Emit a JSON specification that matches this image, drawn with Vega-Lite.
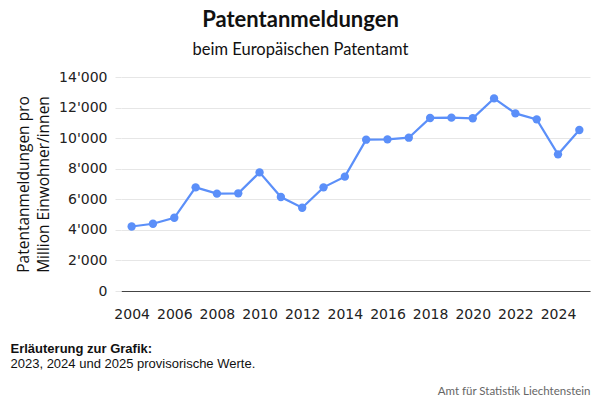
{
  "$schema": "https://vega.github.io/schema/vega-lite/v6.json",
  "autosize": {"type": "none"},
  "width": 469,
  "height": 214,
  "padding": {"left": 121, "top": 77, "right": 10, "bottom": 109},
  "title": {
    "text": "Patentanmeldungen",
    "subtitle": "beim Europäischen Patentamt",
    "anchor": "middle",
    "frame": "group",
    "dx": -55,
    "offset": 11,
    "font": "Lato",
    "fontSize": 22,
    "fontWeight": "bold",
    "color": "#111",
    "subtitleFont": "Lato",
    "subtitleFontSize": 16.5,
    "subtitleColor": "#111",
    "subtitlePadding": 10
  },
  "data": {
    "values": [
      {"year": 2004, "value": 4220},
      {"year": 2005, "value": 4400},
      {"year": 2006, "value": 4790},
      {"year": 2007, "value": 6780},
      {"year": 2008, "value": 6370},
      {"year": 2009, "value": 6390},
      {"year": 2010, "value": 7760},
      {"year": 2011, "value": 6150},
      {"year": 2012, "value": 5450},
      {"year": 2013, "value": 6780},
      {"year": 2014, "value": 7480},
      {"year": 2015, "value": 9900},
      {"year": 2016, "value": 9920},
      {"year": 2017, "value": 10030},
      {"year": 2018, "value": 11320},
      {"year": 2019, "value": 11340},
      {"year": 2020, "value": 11300},
      {"year": 2021, "value": 12600},
      {"year": 2022, "value": 11620},
      {"year": 2023, "value": 11230},
      {"year": 2024, "value": 8940},
      {"year": 2025, "value": 10530}
    ]
  },
  "layer": [
    {
      "mark": {"type": "line", "color": "#5b8ff9", "strokeWidth": 2.2},
      "encoding": {
        "x": {
          "field": "year",
          "type": "quantitative",
          "scale": {"domain": [2003.5, 2025.5], "nice": false, "zero": false},
          "axis": {
            "orient": "bottom",
            "values": [2004, 2006, 2008, 2010, 2012, 2014, 2016, 2018, 2020, 2022, 2024],
            "format": "d",
            "grid": false,
            "ticks": false,
            "tickSize": 0,
            "labelPadding": 16,
            "labelFont": "DejaVu Sans",
            "labelFontSize": 14,
            "labelColor": "#222",
            "domainColor": "#444",
            "domainWidth": 1.2,
            "title": "Erläuterung zur Grafik:",
            "titleFont": "Liberation Sans",
            "titleFontSize": 13,
            "titleFontWeight": "bold",
            "titleColor": "#111",
            "titleAlign": "left",
            "titleAnchor": "start",
            "titleBaseline": "alphabetic",
            "titleX": -111,
            "titleY": 61
          }
        },
        "y": {
          "field": "value",
          "type": "quantitative",
          "scale": {"domain": [0, 14000], "nice": false},
          "axis": {
            "values": [0, 2000, 4000, 6000, 8000, 10000, 12000, 14000],
            "labelExpr": "replace(format(datum.value, ','), ',', \"'\")",
            "domain": false,
            "tickColor": "#e6e6e6",
            "tickSize": 6,
            "gridColor": "#e6e6e6",
            "labelPadding": 8,
            "labelFont": "DejaVu Sans",
            "labelFontSize": 14,
            "labelColor": "#222",
            "title": ["Patentanmeldungen pro", "Million Einwohner/innen"],
            "titleFont": "Open Sans",
            "titleFontSize": 15.5,
            "titleFontWeight": "normal",
            "titleColor": "#111",
            "titleAngle": -90,
            "titleAlign": "center",
            "titleBaseline": "middle",
            "titleLineHeight": 20,
            "titleX": -98,
            "titleY": 107
          }
        }
      }
    },
    {
      "mark": {"type": "point", "filled": true, "opacity": 1, "color": "#5b8ff9", "size": 70},
      "encoding": {
        "x": {
          "field": "year",
          "type": "quantitative",
          "axis": {
            "orient": "top",
            "labels": false,
            "ticks": false,
            "domain": false,
            "grid": false,
            "title": "2023, 2024 und 2025 provisorische Werte.",
            "titleFont": "Liberation Sans",
            "titleFontSize": 13,
            "titleFontWeight": "normal",
            "titleColor": "#111",
            "titleAlign": "left",
            "titleAnchor": "start",
            "titleBaseline": "alphabetic",
            "titleX": -111,
            "titleY": 290
          }
        },
        "y": {
          "field": "value",
          "type": "quantitative",
          "axis": {
            "orient": "right",
            "labels": false,
            "ticks": false,
            "domain": false,
            "grid": false,
            "title": "Amt für Statistik Liechtenstein",
            "titleFont": "Lato",
            "titleFontSize": 11.5,
            "titleFontWeight": "normal",
            "titleColor": "#666",
            "titleAngle": 0,
            "titleAlign": "right",
            "titleBaseline": "alphabetic",
            "titleX": 0,
            "titleY": 317
          }
        }
      }
    }
  ],
  "resolve": {"axis": {"x": "independent", "y": "independent"}},
  "config": {"view": {"stroke": null}}
}
